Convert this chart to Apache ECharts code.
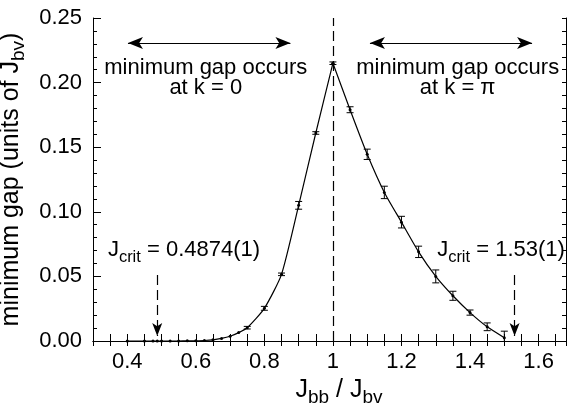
<!DOCTYPE html>
<html>
<head>
<meta charset="utf-8">
<script src="https://cdn.jsdelivr.net/npm/echarts@6/dist/echarts.min.js"></script>
<style>
  html, body { margin: 0; padding: 0; background: #fff; }
  #chart { width: 568px; height: 408px; }
</style>
</head>
<body>
<div id="chart"></div>
<script>
// k = 0 side (left of the peak)
var leftX = [0.4, 0.45, 0.475, 0.4875, 0.5, 0.525, 0.55, 0.575, 0.6, 0.625, 0.65, 0.675, 0.7, 0.725, 0.75, 0.8, 0.85, 0.9, 0.95, 1.0];
var leftGap = [0, 0, 0, 0, 0, 0, 0, 0.0001, 0.0002, 0.0004, 0.0009, 0.002, 0.0037, 0.0065, 0.0103, 0.0253, 0.0516, 0.105, 0.161, 0.215];
var leftErr = [0, 0, 0, 0, 0, 0, 0, 0, 0, 0, 0, 0, 0, 0, 0.001, 0.0015, 0.001, 0.003, 0.001, 0.001];
// k = pi side
var rightX = [1.0, 1.05, 1.1, 1.15, 1.2, 1.25, 1.3, 1.35, 1.4, 1.45, 1.5];
var rightGap = [0.215, 0.179, 0.1445, 0.115, 0.092, 0.069, 0.050, 0.035, 0.022, 0.011, 0.0026];
var rightErr = [0, 0.0023, 0.004, 0.0048, 0.0045, 0.0044, 0.005, 0.0035, 0.002, 0.003, 0.005];

var xTickValues = [0.4, 0.6, 0.8, 1.0, 1.2, 1.4, 1.6];
var xTickLabels = ['0.4', '0.6', '0.8', '1', '1.2', '1.4', '1.6'];
var yTickLabels = ['0.00', '0.05', '0.10', '0.15', '0.20', '0.25'];

var FONT = '"Liberation Sans", Arial, Helvetica, sans-serif';

var errBars = [];
leftX.forEach(function (x, i) {
  if (leftErr[i] > 0) errBars.push([x, leftGap[i] - leftErr[i], leftGap[i] + leftErr[i]]);
});
rightX.forEach(function (x, i) {
  if (rightErr[i] > 0) errBars.push([x, rightGap[i] - rightErr[i], rightGap[i] + rightErr[i]]);
});

var myChart = echarts.init(document.getElementById('chart'));

var subName = { fontSize: 19, fontFamily: FONT, color: '#000', padding: [15, 0, 0, 0] };
var subSmall = { fontSize: 16.5, fontFamily: FONT, color: '#000', padding: [14, 0, 0, 0] };

var option = {
  backgroundColor: '#fff',
  animation: false,
  grid: { left: 93, right: 2, top: 18, bottom: 67, outerBoundsMode: 'none', containLabel: false },
  xAxis: [
    {
      type: 'value',
      min: 0.3,
      max: 1.68,
      interval: 0.05,
      position: 'bottom',
      name: 'J{s|bb} / J{s|bv}',
      nameLocation: 'middle',
      nameGap: 21,
      nameTextStyle: { fontSize: 25, fontFamily: FONT, color: '#000', padding: [0, 0, 0, 19], rich: { s: subName } },
      axisLine: { lineStyle: { color: '#000', width: 1 } },
      axisTick: { inside: true, length: 7, lineStyle: { color: '#000' } },
      axisLabel: {
        margin: 10,
        fontSize: 22,
        fontFamily: FONT,
        color: '#000',
        formatter: function (v) {
          for (var i = 0; i < xTickValues.length; i++) {
            if (Math.abs(v - xTickValues[i]) < 1e-6) return xTickLabels[i];
          }
          return '';
        }
      },
      splitLine: { show: false }
    },
    {
      type: 'value',
      min: 0.3,
      max: 1.68,
      interval: 0.05,
      position: 'top',
      axisLine: { lineStyle: { color: '#000', width: 1 } },
      axisTick: { inside: true, length: 5, lineStyle: { color: '#000' } },
      axisLabel: { show: false },
      splitLine: { show: false }
    }
  ],
  yAxis: [
    {
      type: 'value',
      min: 0,
      max: 0.25,
      interval: 0.05,
      position: 'left',
      name: 'minimum gap (units of J{s|bv})',
      nameLocation: 'middle',
      nameGap: 45,
      nameTextStyle: { fontSize: 25, fontFamily: FONT, color: '#000', rich: { s: subName } },
      axisLine: { lineStyle: { color: '#000', width: 1 } },
      axisTick: { inside: true, length: 8, lineStyle: { color: '#000' } },
      minorTick: { show: true, splitNumber: 5, length: 4, lineStyle: { color: '#000' } },
      axisLabel: {
        margin: 11,
        fontSize: 22,
        fontFamily: FONT,
        color: '#000',
        formatter: function (v) {
          return yTickLabels[Math.round(v / 0.05)] || '';
        }
      },
      splitLine: { show: false }
    },
    {
      type: 'value',
      min: 0,
      max: 0.25,
      interval: 0.01,
      position: 'right',
      axisLine: { lineStyle: { color: '#000', width: 1 } },
      axisTick: { inside: true, length: 4, lineStyle: { color: '#000' } },
      axisLabel: { show: false },
      splitLine: { show: false }
    }
  ],
  series: [
    {
      name: 'k0',
      type: 'line',
      data: leftX.map(function (x, i) { return [x, leftGap[i]]; }),
      smooth: 0.2,
      symbol: 'circle',
      symbolSize: 3,
      itemStyle: { color: '#000' },
      lineStyle: { color: '#000', width: 1.2 },
      z: 3,
      markLine: {
        silent: true,
        animation: false,
        label: { show: false },
        lineStyle: { color: '#000', width: 1.2, type: 'solid' },
        symbol: ['arrow', 'arrow'],
        symbolSize: [9, 15],
        data: [
          [{ coord: [1.0, 0], symbol: 'none', lineStyle: { type: [10, 5] } }, { coord: [1.0, 0.25], symbol: 'none' }],
          [{ coord: [0.402, 0.2307] }, { coord: [0.876, 0.2307] }],
          [{ coord: [1.108, 0.2307] }, { coord: [1.581, 0.2307] }],
          [{ coord: [0.4874, 0.051], symbol: 'none', lineStyle: { type: [10, 5] } }, { coord: [0.4874, 0.0039], symbol: 'arrow', symbolSize: [7.5, 13] }],
          [{ coord: [1.53, 0.051], symbol: 'none', lineStyle: { type: [10, 5] } }, { coord: [1.53, 0.0039], symbol: 'arrow', symbolSize: [7.5, 13] }]
        ]
      },
      markPoint: {
        silent: true,
        animation: false,
        symbol: 'circle',
        symbolSize: 1,
        itemStyle: { color: 'rgba(0,0,0,0)' },
        label: {
          show: true,
          position: 'inside',
          color: '#000',
          fontSize: 22,
          fontFamily: FONT,
          lineHeight: 20,
          align: 'center',
          rich: { s: subSmall }
        },
        data: [
          { coord: [0.629, 0.2036], label: { formatter: 'minimum gap occurs\nat k = 0' } },
          { coord: [1.364, 0.2036], label: { formatter: 'minimum gap occurs\nat k = \u03c0' } },
          { coord: [0.5655, 0.0704], label: { formatter: 'J{s|crit} = 0.4874(1)' } },
          { coord: [1.4904, 0.0704], label: { formatter: 'J{s|crit} = 1.53(1)' } }
        ]
      }
    },
    {
      name: 'kpi',
      type: 'line',
      data: rightX.map(function (x, i) { return [x, rightGap[i]]; }),
      smooth: 0.2,
      symbol: 'circle',
      symbolSize: 3,
      itemStyle: { color: '#000' },
      lineStyle: { color: '#000', width: 1.2 },
      z: 3
    },
    {
      name: 'err',
      type: 'custom',
      clip: true,
      data: errBars,
      encode: { x: 0, y: [1, 2] },
      z: 4,
      renderItem: function (params, api) {
        var x = api.value(0);
        var top = api.coord([x, api.value(2)]);
        var bot = api.coord([x, api.value(1)]);
        var st = { stroke: '#000', lineWidth: 1 };
        return {
          type: 'group',
          children: [
            { type: 'line', shape: { x1: top[0], y1: top[1], x2: bot[0], y2: bot[1] }, style: st },
            { type: 'line', shape: { x1: top[0] - 3.5, y1: top[1], x2: top[0] + 3.5, y2: top[1] }, style: st },
            { type: 'line', shape: { x1: bot[0] - 3.5, y1: bot[1], x2: bot[0] + 3.5, y2: bot[1] }, style: st }
          ]
        };
      }
    }
  ]
};
myChart.setOption(option);
</script>
</body>
</html>
